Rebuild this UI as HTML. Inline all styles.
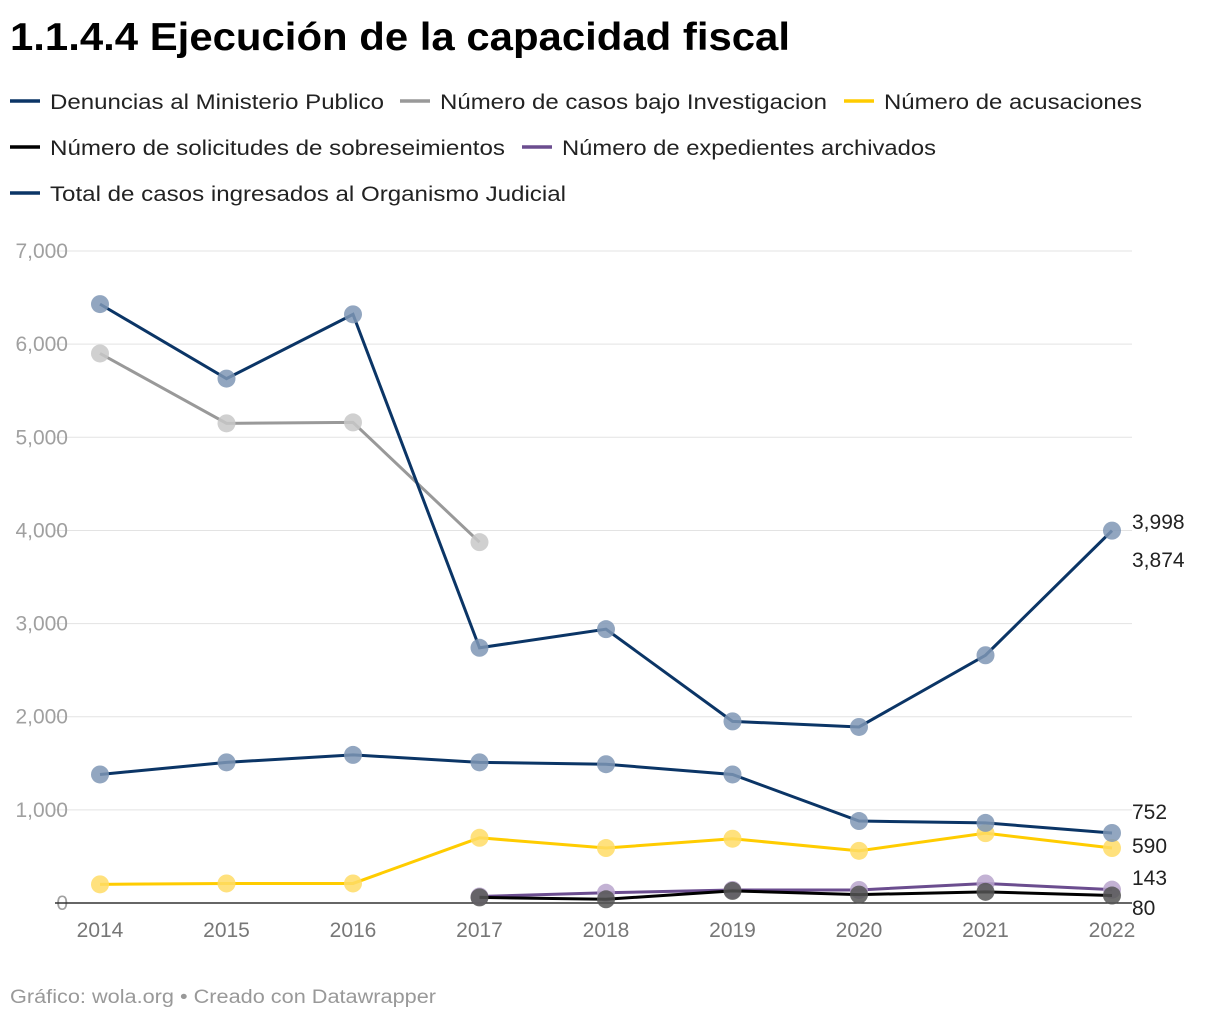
<!DOCTYPE html>
<html><head><meta charset="utf-8"><style>
body{margin:0;background:#fff;font-family:"Liberation Sans",sans-serif;}
</style></head><body>
<svg width="1220" height="1020" id="c" xmlns="http://www.w3.org/2000/svg" font-family="Liberation Sans, sans-serif">
<text x="10" y="50" font-size="39" font-weight="bold" fill="#000" textLength="780" lengthAdjust="spacingAndGlyphs">1.1.4.4 Ejecución de la capacidad fiscal</text>
<g id="legend"></g>
<g id="grid"></g>
<g id="plot"></g>
<text x="10" y="1003" font-size="19" fill="#999" textLength="426" lengthAdjust="spacingAndGlyphs">Gráfico: wola.org • Creado con Datawrapper</text>
</svg>
<script>
const years=[2014,2015,2016,2017,2018,2019,2020,2021,2022];
const yTicks=[0,1000,2000,3000,4000,5000,6000,7000];
const denuncias=[6430,5630,6320,2740,2940,1950,1890,2660,3998];
const investigacion=[5900,5150,5160,3874,null,null,null,null,null];
const acusaciones=[200,210,210,700,590,690,560,750,590];
const sobreseimientos=[null,null,null,60,40,130,90,120,80];
const archivados=[null,null,null,70,110,140,140,210,143];
const totalOJ=[1380,1510,1590,1510,1490,1380,880,860,752];
const endLabels=[["3,998",3998,522],["3,874",3874,560],["752",752,812],["590",590,846],["143",143,878],["80",80,908]];
const legendNames=["Denuncias al Ministerio Publico","Número de casos bajo Investigacion","Número de acusaciones","Número de solicitudes de sobreseimientos","Número de expedientes archivados","Total de casos ingresados al Organismo Judicial"];
const NS="http://www.w3.org/2000/svg";
function X(i){return 100+i*126.5;}
function Y(v){return 903-v*0.09314;}
function mk(t,a,p){const e=document.createElementNS(NS,t);for(const k in a)e.setAttribute(k,a[k]);p.appendChild(e);return e;}
const grid=document.getElementById('grid'),plot=document.getElementById('plot'),leg=document.getElementById('legend');
yTicks.forEach(v=>{
 if(v>0){const l=mk('line',{x1:55,x2:1132,y1:Y(v),y2:Y(v),stroke:'#e3e3e3','stroke-width':1},grid);
 
 }
 const t=mk('text',{x:68,y:Y(v)+7,'font-size':21,fill:'#a0a0a0','text-anchor':'end'},grid);t.textContent=v.toLocaleString('en-US');
 
 
});
const ax=mk('line',{x1:55,x2:1132,y1:903,y2:903,stroke:'#333','stroke-width':1.5},grid);


years.forEach((y,i)=>{const t=mk('text',{x:X(i),y:937,'font-size':21,fill:'#777','text-anchor':'middle'},grid);t.textContent=y;
 
 });
const series=[[investigacion,'#999999','#c8c8c8','investigacion'],[acusaciones,'#ffcc00','#ffdc66','acusaciones'],[archivados,'#6b4d8f','#b8a5cc','archivados'],[sobreseimientos,'#000000','#555555','sobreseimientos'],[totalOJ,'#0b3566','#7f97b5','total-oj'],[denuncias,'#0b3566','#7f97b5','denuncias']];
series.forEach(([d,c,f,n])=>{
 const g=mk('g',{},plot);
 
 
 let p='';d.forEach((v,i)=>{if(v!=null)p+=(p?'L':'M')+X(i)+','+Y(v);});
 const pa=mk('path',{d:p,fill:'none',stroke:c,'stroke-width':3},g);
 
 
 d.forEach((v,i)=>{if(v==null)return;const ci=mk('circle',{cx:X(i),cy:Y(v),r:9,fill:f,'fill-opacity':0.85},g);
 
 });
});
endLabels.forEach(([s,v,y])=>{const t=mk('text',{x:1132,y:y+7,'font-size':21,fill:'#222'},plot);t.textContent=s;
 
 });
const lc=['#0b3566','#999999','#ffcc00','#000000','#6b4d8f','#0b3566'];
const lpos=[[10,101],[400,101],[844,101],[10,147],[522,147],[10,193]];
const lw=[334,387,258,455,374,516];
legendNames.forEach((n,i)=>{const g=mk('g',{},leg);
 
 
 const [x,y]=lpos[i];mk('line',{x1:x,x2:x+30,y1:y,y2:y,stroke:lc[i],'stroke-width':3.5},g);
 const t=mk('text',{x:x+40,y:y+8,'font-size':21,fill:'#222',textLength:lw[i],lengthAdjust:'spacingAndGlyphs'},g);t.textContent=n;});
</script>
</body></html>
